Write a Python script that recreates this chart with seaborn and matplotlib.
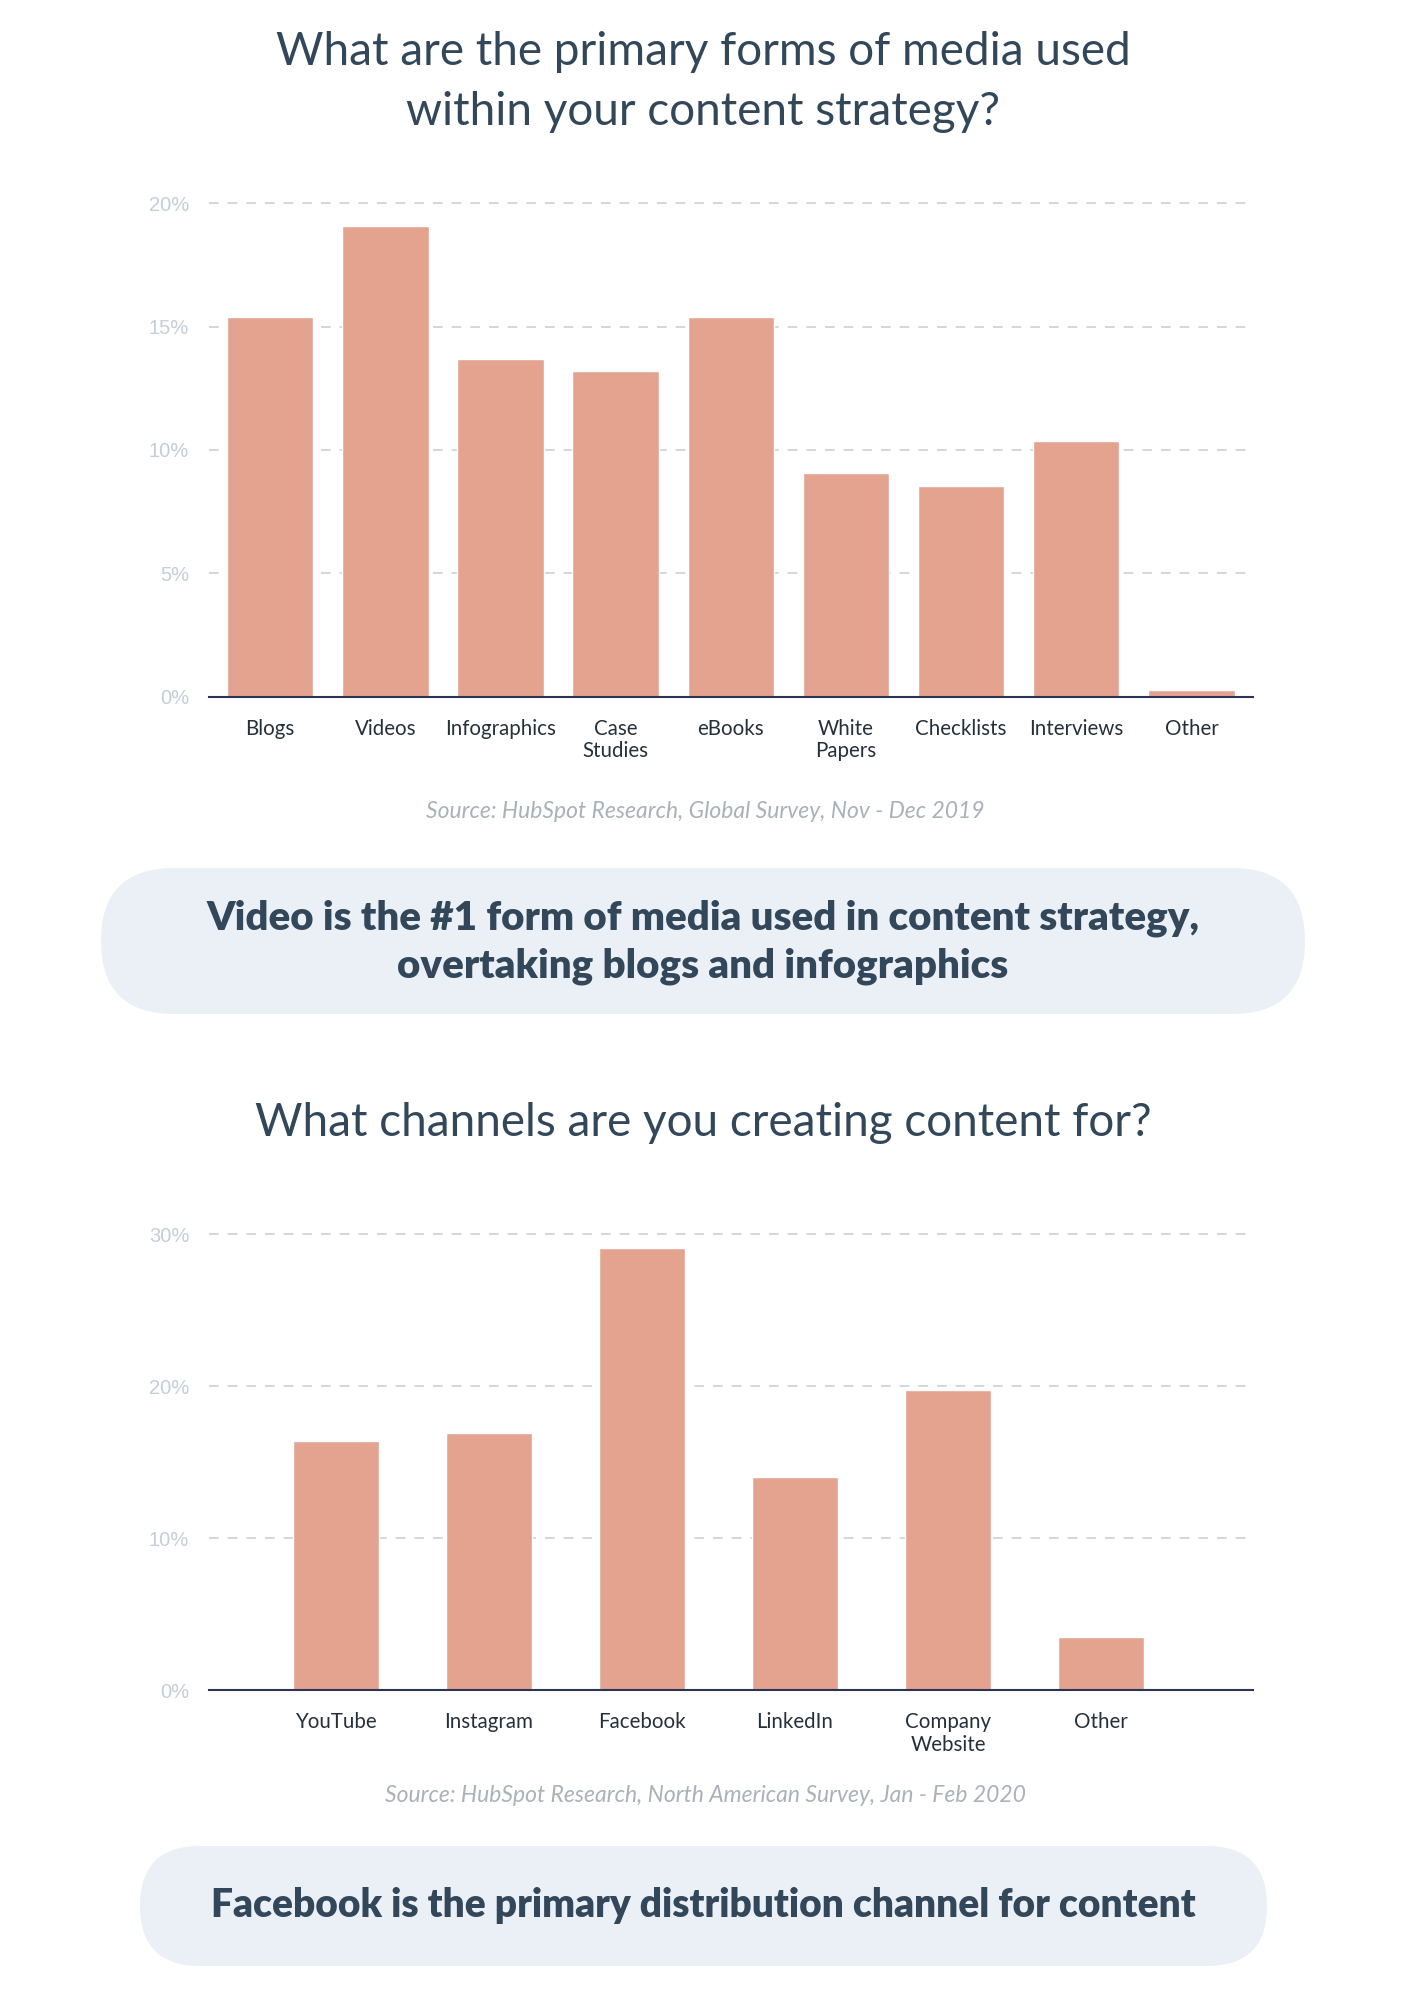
import matplotlib
matplotlib.use("Agg")
import matplotlib.pyplot as plt
from matplotlib.patches import FancyBboxPatch
from matplotlib.ticker import FuncFormatter
import seaborn as sns
import pandas as pd

# ---------------- data ----------------
media_categories = ["Blogs", "Videos", "Infographics", "Case\nStudies", "eBooks",
                    "White\nPapers", "Checklists", "Interviews", "Other"]
media_values = [15.4, 19.1, 13.7, 13.2, 15.4, 9.05, 8.55, 10.35, 0.25]
media_ticks = [0, 5, 10, 15, 20]

channel_categories = ["YouTube", "Instagram", "Facebook", "LinkedIn",
                      "Company\nWebsite", "Other"]
channel_values = [16.4, 16.9, 29.1, 14.0, 19.75, 3.5]
channel_ticks = [0, 10, 20, 30]

title_top = "What are the primary forms of media used\nwithin your content strategy?"
title_bottom = "What channels are you creating content for?"
source_top = "Source: HubSpot Research, Global Survey, Nov - Dec 2019"
source_bottom = "Source: HubSpot Research, North American Survey, Jan - Feb 2020"
banner_top = "Video is the #1 form of media used in content strategy,\novertaking blogs and infographics"
banner_bottom = "Facebook is the primary distribution channel for content"

# ---------------- style ----------------
sns.set_theme(style="white")
plt.rcParams["font.family"] = ["Lato", "DejaVu Sans"]

BAR = "#e4a38e"
DARK = "#33475b"
LABEL = "#26303b"
TICK = "#c5cdd8"
GRID = "#d3d7dc"
SRC = "#abb1b8"
BANNER = "#eaf0f6"
AXIS = "#2b3553"

W, H = 1406, 2000
fig = plt.figure(figsize=(W / 100, H / 100), dpi=100)
fig.patch.set_facecolor("white")

# background layer in pixel coordinates
bg = fig.add_axes([0, 0, 1, 1], zorder=0)
bg.set_xlim(0, W)
bg.set_ylim(H, 0)
bg.axis("off")

def pill(x0, y0, x1, y1):
    h = y1 - y0
    p = FancyBboxPatch((x0, y0), x1 - x0, h,
                       boxstyle=f"round,pad=0,rounding_size={h/2}",
                       facecolor=BANNER, edgecolor="none")
    bg.add_patch(p)

pill(101, 868, 1305, 1014)
pill(140, 1846, 1267, 1966)

bg.text(703, 82, title_top, ha="center", va="center", fontsize=33,
        color=DARK, linespacing=1.52)
bg.text(703, 1123, title_bottom, ha="center", va="center", fontsize=33,
        color=DARK)
bg.text(705, 812, source_top, ha="center", va="center", fontsize=16.5,
        color=SRC, style="italic")
bg.text(705, 1796, source_bottom, ha="center", va="center", fontsize=16.5,
        color=SRC, style="italic")
bg.text(703, 942, banner_top, ha="center", va="center", fontsize=29,
        color=DARK, fontweight="heavy", linespacing=1.36)
bg.text(703, 1906, banner_bottom, ha="center", va="center", fontsize=28,
        color=DARK, fontweight="heavy")


def px_axes(left, top, right, bottom):
    return fig.add_axes([left / W, 1 - bottom / H, (right - left) / W,
                         (bottom - top) / H], zorder=2)


def style_chart(ax, ticks, xlim):
    ax.set_facecolor("none")
    ax.set_xlim(*xlim)
    ax.set_ylim(0, ticks[-1])
    ax.set_yticks(ticks)
    ax.yaxis.set_major_formatter(FuncFormatter(lambda v, p: f"{v:.0f}%"))
    for t in ticks[1:]:
        ax.axhline(t, color=GRID, lw=1.4, ls=(0, (5, 4.6)), zorder=0,
                   clip_on=False)
    for s in ["top", "right", "left"]:
        ax.spines[s].set_visible(False)
    ax.spines["bottom"].set_color(AXIS)
    ax.spines["bottom"].set_linewidth(1.5)
    ax.spines["bottom"].set_zorder(5)
    ax.tick_params(axis="y", length=0, pad=14, labelsize=14.5, labelcolor=TICK)
    ax.tick_params(axis="x", length=0, pad=16, labelsize=14.8, labelcolor=LABEL)
    for lab in ax.get_yticklabels():
        lab.set_fontfamily(["Liberation Sans", "DejaVu Sans"])
    for lab in ax.get_xticklabels():
        lab.set_linespacing(1.15)
    ax.set_xlabel("")
    ax.set_ylabel("")
    ax.grid(False)


# top chart
ax1 = px_axes(208.6, 203.4, 1253, 696.5)
df1 = pd.DataFrame({"media": media_categories, "share": media_values})
sns.barplot(data=df1, x="media", y="share", color=BAR, saturation=1,
            width=0.75, ax=ax1, zorder=3)
style_chart(ax1, media_ticks, (-0.535, 8.535))

# bottom chart
ax2 = px_axes(208.6, 1234.2, 1253, 1690.2)
df2 = pd.DataFrame({"channel": channel_categories, "share": channel_values})
sns.barplot(data=df2, x="channel", y="share", color=BAR, saturation=1,
            width=0.562, ax=ax2, zorder=3)
style_chart(ax2, channel_ticks, (-0.833, 5.993))

fig.savefig("out.png", dpi=100, facecolor="white")
